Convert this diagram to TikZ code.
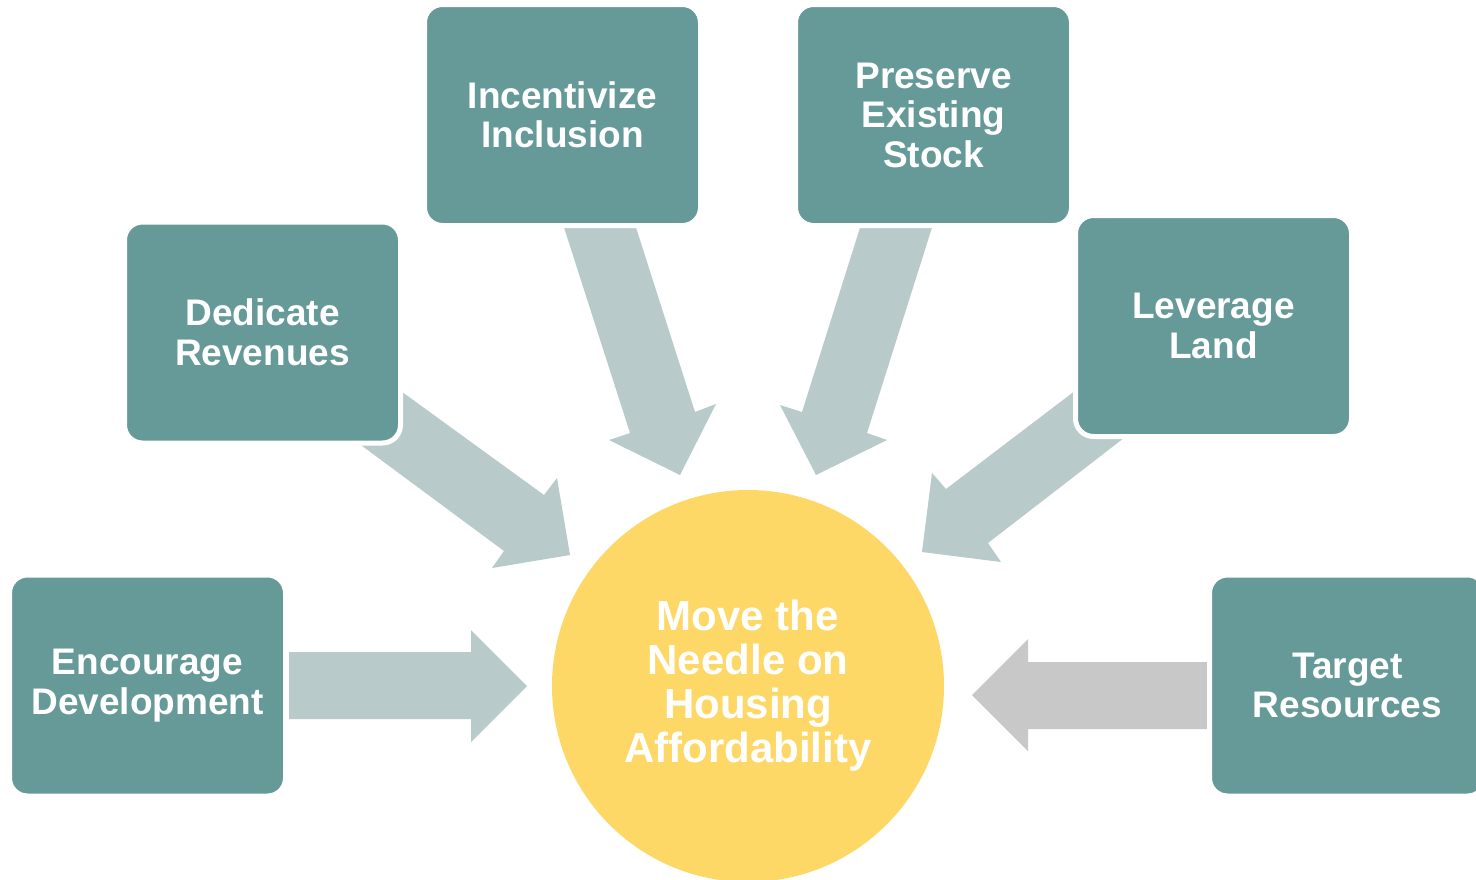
\documentclass[tikz,border=0pt]{standalone}
\usepackage{fontspec}
\setmainfont{Liberation Sans}
\definecolor{teal1}{HTML}{669A99}
\definecolor{arrowc}{HTML}{B8CBCA}
\definecolor{grayc}{HTML}{C8C8C8}
\definecolor{sun}{HTML}{FDD866}
\tikzset{
  box/.style={rectangle, rounded corners=18pt, fill=teal1, draw=white, line width=5pt,
    minimum width=276pt, minimum height=221pt, inner sep=0pt, align=center,
    text=white, font=\fontsize{37}{39.5}\selectfont\bfseries},
  hub/.style={circle, fill=sun, minimum size=392pt, inner sep=0pt, align=center,
    text=white, font=\fontsize{42}{44}\selectfont\bfseries},
  blockarrow/.style={fill=arrowc, draw=none},
  grayarrow/.style={fill=grayc, draw=none}
}
\begin{document}
\begin{tikzpicture}[x=1pt,y=-1pt]
\clip (0,0) rectangle (1476,879);
\fill[white] (0,0) rectangle (1476,879);
% block arrows
\fill[blockarrow] (387,381) -- (544,495) -- (557,478) -- (570,555) -- (492,568) -- (504,551) -- (346,434) -- cycle;
\fill[blockarrow] (560,215) -- (632,215) -- (695,412) -- (716,404) -- (680,475) -- (609,440) -- (630,433) -- cycle;
\fill[blockarrow] (864,215) -- (936,215) -- (867,433) -- (887,440) -- (816,475) -- (780,405) -- (802,412) -- cycle;
\fill[blockarrow] (1084,384) -- (946,489) -- (932,473) -- (922,552) -- (1001,562) -- (988,543) -- (1133,431) -- cycle;
\fill[blockarrow] (289,652) -- (471,652) -- (471,630) -- (527,686) -- (471,742) -- (471,719) -- (289,719) -- cycle;
\fill[grayarrow] (1207,662) -- (1028,662) -- (1028,639) -- (972,695) -- (1028,751) -- (1028,729) -- (1207,729) -- cycle;
% boxes
\node[box] (incl) at (562.5,115) {Incentivize\\Inclusion};
\node[box] (pres) at (933.5,115) {Preserve\\Existing\\Stock};
\node[box] (dedi) at (262.5,332.5) {Dedicate\\Revenues};
\node[box] (lev) at (1213.5,326) {Leverage\\Land};
\node[box] (enc) at (147.5,685.5) {Encourage\\Development};
\node[box] (targ) at (1347.5,685.5) {Target\\Resources};
% hub
\node[hub] (hub) at (748,686) {Move the\\Needle on\\Housing\\Affordability};
\end{tikzpicture}
\end{document}
